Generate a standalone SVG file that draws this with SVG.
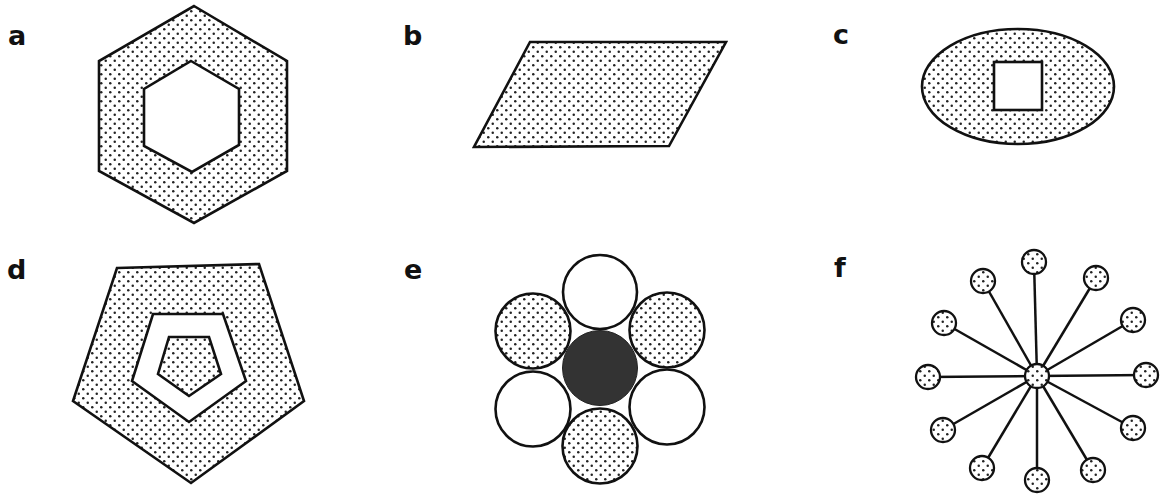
<svg xmlns="http://www.w3.org/2000/svg" width="1162" height="500" viewBox="0 0 1162 500">
<defs>
<pattern id="dots" width="9" height="9" patternUnits="userSpaceOnUse">
<rect width="9" height="9" fill="#fff"/>
<circle cx="2.25" cy="2.25" r="1.25" fill="#222"/>
<circle cx="6.75" cy="6.75" r="1.25" fill="#222"/>
</pattern>
</defs>
<style>
.lbl{font-family:"DejaVu Sans","Liberation Sans",sans-serif;font-weight:bold;font-size:27px;fill:#111}
.sh{stroke:#111;stroke-width:2.6;stroke-linejoin:miter}
.dot{fill:url(#dots)}
.wht{fill:#fff}
.ln{stroke:#111;stroke-width:2.5}
.sc{fill:url(#dots);stroke:#111;stroke-width:2.3}
</style>
<rect width="1162" height="500" fill="#fff"/>
<g id="a">
<text class="lbl" x="8" y="45">a</text>
<polygon class="sh dot" points="194,6 287,61 287,171 194,223 99,171 99,61"/>
<polygon class="sh wht" points="191,61 239,89 239,145 192,172 144,146 144,89"/>
</g>
<g id="b">
<text class="lbl" x="403" y="45">b</text>
<polygon class="sh dot" points="530,42 726,42 669,146 474,147"/>
</g>
<g id="c">
<text class="lbl" x="833" y="44">c</text>
<ellipse class="sh dot" cx="1018" cy="86.5" rx="96" ry="57.5"/>
<rect class="sh wht" x="994" y="62" width="48" height="48"/>
</g>
<g id="d">
<text class="lbl" x="7" y="279">d</text>
<polygon class="sh dot" points="117,268 259,264 304,401 191,483 73,401"/>
<polygon class="sh wht" points="153,314 223,314 246,381 189,422 132,381"/>
<polygon class="sh dot" points="169,337 209,337 221,374 189,396 158,374"/>
</g>
<g id="e">
<text class="lbl" x="404" y="279">e</text>
<circle class="sh wht" cx="600" cy="292" r="37"/>
<circle class="sh dot" cx="533" cy="331" r="37.5"/>
<circle class="sh dot" cx="667" cy="330" r="37.5"/>
<circle class="sh wht" cx="533" cy="409" r="37.5"/>
<circle class="sh wht" cx="667" cy="407" r="37.5"/>
<circle class="sh dot" cx="600" cy="446" r="37.5"/>
<circle cx="600" cy="368" r="37.5" fill="#333" stroke="#222" stroke-width="1"/>
</g>
<g id="f">
<text class="lbl" x="834" y="277">f</text>
<g id="f-connectors">
<line class="ln" x1="1037" y1="376" x2="1034" y2="262"/>
<line class="ln" x1="1037" y1="376" x2="1096" y2="278"/>
<line class="ln" x1="1037" y1="376" x2="1133" y2="320"/>
<line class="ln" x1="1037" y1="376" x2="1146" y2="375"/>
<line class="ln" x1="1037" y1="376" x2="1133" y2="428"/>
<line class="ln" x1="1037" y1="376" x2="1093" y2="470"/>
<line class="ln" x1="1037" y1="376" x2="1037" y2="480"/>
<line class="ln" x1="1037" y1="376" x2="982" y2="468"/>
<line class="ln" x1="1037" y1="376" x2="943" y2="430"/>
<line class="ln" x1="1037" y1="376" x2="928" y2="377"/>
<line class="ln" x1="1037" y1="376" x2="944" y2="323"/>
<line class="ln" x1="1037" y1="376" x2="983" y2="281"/>
</g>
<circle class="sc" cx="1037" cy="376" r="12"/>
<circle class="sc" cx="1034" cy="262" r="12"/>
<circle class="sc" cx="1096" cy="278" r="12"/>
<circle class="sc" cx="1133" cy="320" r="12"/>
<circle class="sc" cx="1146" cy="375" r="12"/>
<circle class="sc" cx="1133" cy="428" r="12"/>
<circle class="sc" cx="1093" cy="470" r="12"/>
<circle class="sc" cx="1037" cy="480" r="12"/>
<circle class="sc" cx="982" cy="468" r="12"/>
<circle class="sc" cx="943" cy="430" r="12"/>
<circle class="sc" cx="928" cy="377" r="12"/>
<circle class="sc" cx="944" cy="323" r="12"/>
<circle class="sc" cx="983" cy="281" r="12"/>
</g>
</svg>
